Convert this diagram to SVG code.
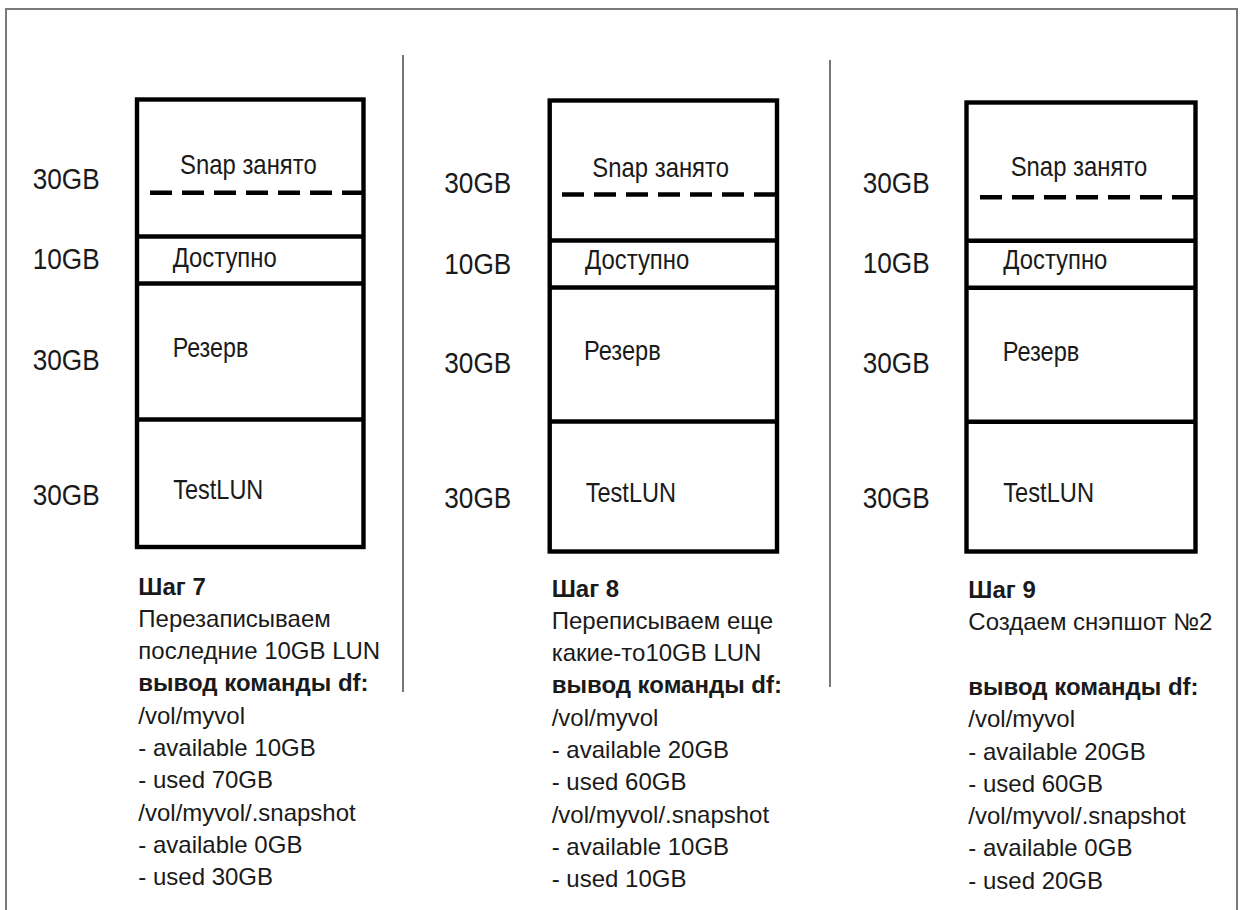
<svg xmlns="http://www.w3.org/2000/svg" width="1241" height="910" viewBox="0 0 1241 910">
<style>
.frame{fill:none;stroke:#7a7a7a;stroke-width:2}
.sep{stroke:#555;stroke-width:1.6}
.box{fill:#fff;stroke:#000;stroke-width:4.4}
.div{stroke:#000;stroke-width:4.4}
.dash{stroke:#000;stroke-width:4.5;stroke-dasharray:22 10}
.side{font-family:"Liberation Sans",Arial,sans-serif;font-size:30px;fill:#1a1a1a}
.lab{font-family:"Liberation Sans",Arial,sans-serif;font-size:28px;fill:#1a1a1a}
.body{font-family:"Liberation Sans",Arial,sans-serif;font-size:24px;fill:#1a1a1a}
.b{font-weight:bold}
</style>
<rect x="0" y="0" width="1241" height="910" fill="#fff"/>
<rect class="frame" x="6" y="9" width="1231" height="920"/>
<g id="connectors">
<line class="sep" x1="403" y1="55" x2="403" y2="692"/>
<line class="sep" x1="830" y1="60" x2="830" y2="687"/>
</g>
<g id="step7">
<rect class="box" x="137" y="99.5" width="226.5" height="447.5"/>
<line class="div" x1="137" y1="236.5" x2="363.5" y2="236.5"/>
<line class="div" x1="137" y1="283.5" x2="363.5" y2="283.5"/>
<line class="div" x1="137" y1="419.5" x2="363.5" y2="419.5"/>
<line class="dash" x1="150" y1="192.7" x2="363" y2="192.7"/>
<text class="lab" x="180" y="174" textLength="136.7" lengthAdjust="spacingAndGlyphs">Snap занято</text>
<text class="lab" x="172.7" y="266.5" textLength="104" lengthAdjust="spacingAndGlyphs">Доступно</text>
<text class="lab" x="172.7" y="357.3" textLength="75.6" lengthAdjust="spacingAndGlyphs">Резерв</text>
<text class="lab" x="173.3" y="499" textLength="90" lengthAdjust="spacingAndGlyphs">TestLUN</text>
<text class="side" x="32.7" y="189.3" textLength="67" lengthAdjust="spacingAndGlyphs">30GB</text>
<text class="side" x="32.7" y="269.3" textLength="67" lengthAdjust="spacingAndGlyphs">10GB</text>
<text class="side" x="32.7" y="370" textLength="67" lengthAdjust="spacingAndGlyphs">30GB</text>
<text class="side" x="32.7" y="505" textLength="67" lengthAdjust="spacingAndGlyphs">30GB</text>
<text class="body" x="138.3" y="594.5">
<tspan x="138.3" class="b">Шаг 7</tspan>
<tspan x="138.3" dy="32.3">Перезаписываем</tspan>
<tspan x="138.3" dy="32.3">последние 10GB LUN</tspan>
<tspan x="138.3" dy="32.3" class="b">вывод команды df:</tspan>
<tspan x="138.3" dy="32.3">/vol/myvol</tspan>
<tspan x="138.3" dy="32.3">- available 10GB</tspan>
<tspan x="138.3" dy="32.3">- used 70GB</tspan>
<tspan x="138.3" dy="32.3">/vol/myvol/.snapshot</tspan>
<tspan x="138.3" dy="32.3">- available 0GB</tspan>
<tspan x="138.3" dy="32.3">- used 30GB</tspan>
</text>
</g>
<g id="step8">
<rect class="box" x="549.7" y="100.5" width="227.3" height="451"/>
<line class="div" x1="549.7" y1="240.5" x2="777" y2="240.5"/>
<line class="div" x1="549.7" y1="287.5" x2="777" y2="287.5"/>
<line class="div" x1="549.7" y1="421.5" x2="777" y2="421.5"/>
<line class="dash" x1="562" y1="194.5" x2="777" y2="194.5"/>
<text class="lab" x="592.3" y="176.7" textLength="136.7" lengthAdjust="spacingAndGlyphs">Snap занято</text>
<text class="lab" x="585" y="269.3" textLength="104.3" lengthAdjust="spacingAndGlyphs">Доступно</text>
<text class="lab" x="584" y="360" textLength="76.7" lengthAdjust="spacingAndGlyphs">Резерв</text>
<text class="lab" x="585.7" y="501.7" textLength="90.3" lengthAdjust="spacingAndGlyphs">TestLUN</text>
<text class="side" x="444.3" y="192.7" textLength="67" lengthAdjust="spacingAndGlyphs">30GB</text>
<text class="side" x="444.3" y="274" textLength="67" lengthAdjust="spacingAndGlyphs">10GB</text>
<text class="side" x="444.3" y="372.7" textLength="67" lengthAdjust="spacingAndGlyphs">30GB</text>
<text class="side" x="444.3" y="508.3" textLength="67" lengthAdjust="spacingAndGlyphs">30GB</text>
<text class="body" x="551.7" y="596.5">
<tspan x="551.7" class="b">Шаг 8</tspan>
<tspan x="551.7" dy="32.3">Переписываем еще</tspan>
<tspan x="551.7" dy="32.3">какие-то10GB LUN</tspan>
<tspan x="551.7" dy="32.3" class="b">вывод команды df:</tspan>
<tspan x="551.7" dy="32.3">/vol/myvol</tspan>
<tspan x="551.7" dy="32.3">- available 20GB</tspan>
<tspan x="551.7" dy="32.3">- used 60GB</tspan>
<tspan x="551.7" dy="32.3">/vol/myvol/.snapshot</tspan>
<tspan x="551.7" dy="32.3">- available 10GB</tspan>
<tspan x="551.7" dy="32.3">- used 10GB</tspan>
</text>
</g>
<g id="step9">
<rect class="box" x="966.5" y="102.5" width="229" height="449"/>
<line class="div" x1="966.5" y1="240.8" x2="1195.5" y2="240.8"/>
<line class="div" x1="966.5" y1="287.8" x2="1195.5" y2="287.8"/>
<line class="div" x1="966.5" y1="421.7" x2="1195.5" y2="421.7"/>
<line class="dash" x1="980" y1="197.3" x2="1195" y2="197.3"/>
<text class="lab" x="1010.7" y="176" textLength="136.6" lengthAdjust="spacingAndGlyphs">Snap занято</text>
<text class="lab" x="1003.3" y="269.3" textLength="104" lengthAdjust="spacingAndGlyphs">Доступно</text>
<text class="lab" x="1002.7" y="360.7" textLength="76.6" lengthAdjust="spacingAndGlyphs">Резерв</text>
<text class="lab" x="1003.3" y="501.7" textLength="90.7" lengthAdjust="spacingAndGlyphs">TestLUN</text>
<text class="side" x="862.7" y="192.7" textLength="67" lengthAdjust="spacingAndGlyphs">30GB</text>
<text class="side" x="862.7" y="273.3" textLength="67" lengthAdjust="spacingAndGlyphs">10GB</text>
<text class="side" x="862.7" y="372.7" textLength="67" lengthAdjust="spacingAndGlyphs">30GB</text>
<text class="side" x="862.7" y="508.3" textLength="67" lengthAdjust="spacingAndGlyphs">30GB</text>
<text class="body" x="968.3" y="598">
<tspan x="968.3" class="b">Шаг 9</tspan>
<tspan x="968.3" dy="32.3">Создаем снэпшот №2</tspan>
<tspan x="968.3" dy="64.6" class="b">вывод команды df:</tspan>
<tspan x="968.3" dy="32.3">/vol/myvol</tspan>
<tspan x="968.3" dy="32.3">- available 20GB</tspan>
<tspan x="968.3" dy="32.3">- used 60GB</tspan>
<tspan x="968.3" dy="32.3">/vol/myvol/.snapshot</tspan>
<tspan x="968.3" dy="32.3">- available 0GB</tspan>
<tspan x="968.3" dy="32.3">- used 20GB</tspan>
</text>
</g>
</svg>
